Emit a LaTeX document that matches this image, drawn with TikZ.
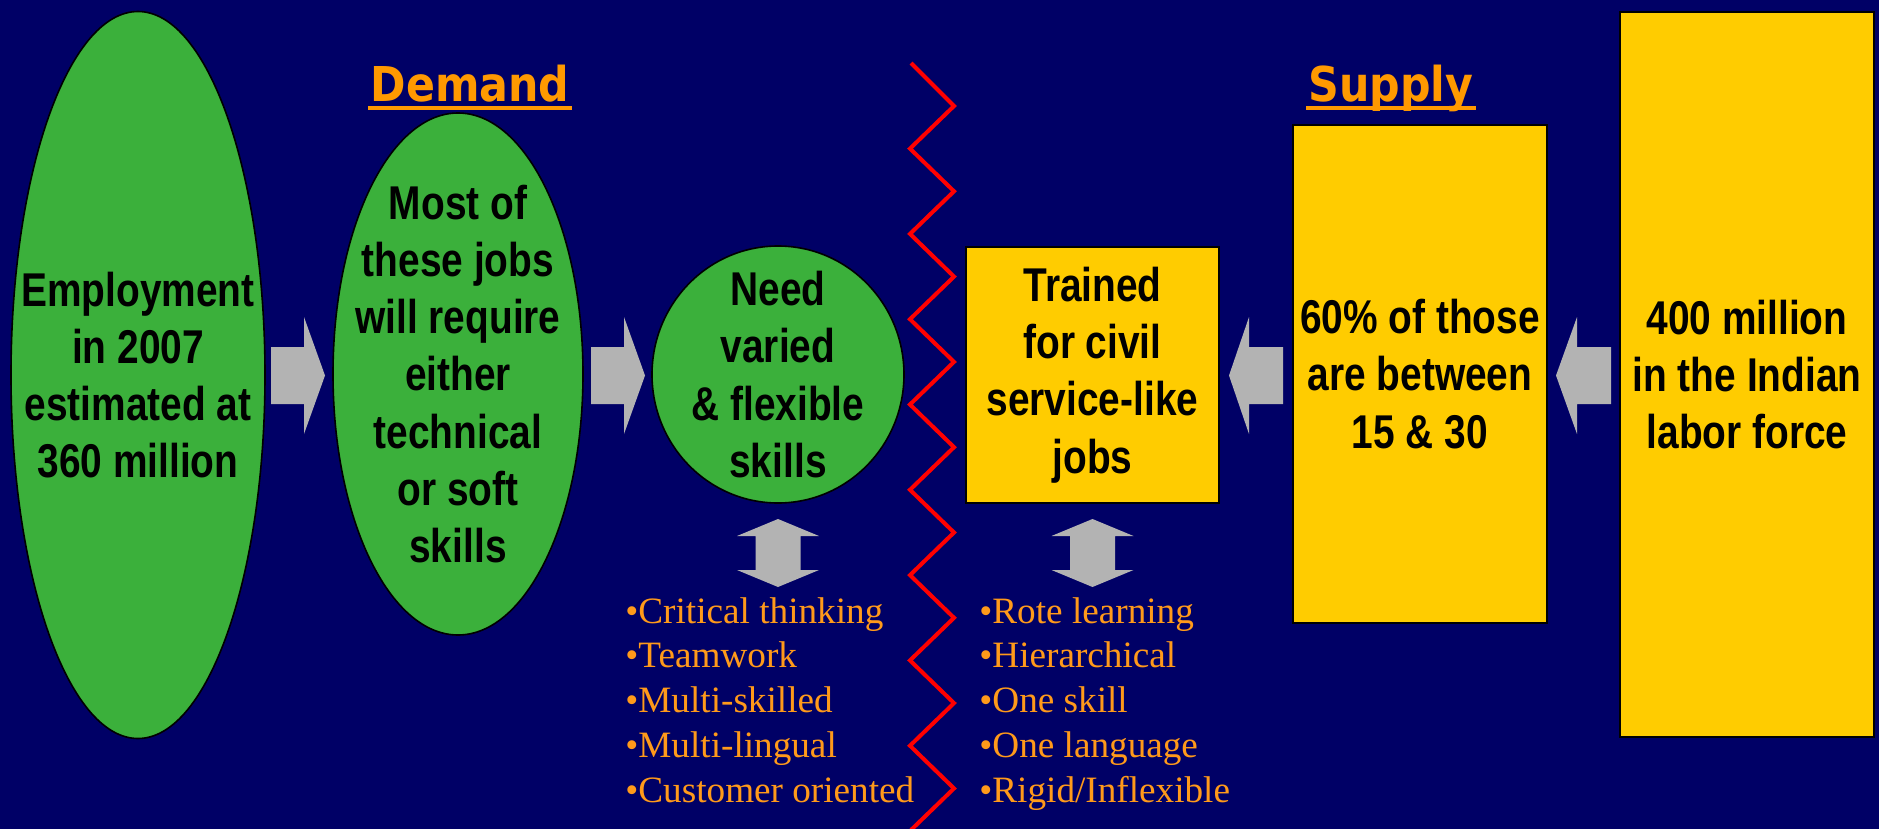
\documentclass[tikz,border=0pt]{standalone}
\usepackage{fontspec}
\setmainfont{Liberation Sans}
\newfontfamily\boxfont{Liberation Sans}[FakeStretch=0.82]
\newfontfamily\headfont{DejaVu Sans}[FakeStretch=0.89]
\newfontfamily\listfont{Liberation Serif}
\usetikzlibrary{shapes.geometric}
\definecolor{bgnavy}{HTML}{000066}
\definecolor{leafgreen}{HTML}{3BB03B}
\definecolor{sunyellow}{HTML}{FFCC00}
\definecolor{headorange}{HTML}{FF9900}
\definecolor{listorange}{HTML}{FF9A1A}
\definecolor{arrowgray}{HTML}{B3B3B3}
\begin{document}
\begin{tikzpicture}[x=0.5pt,y=-0.5pt,
  boxtext/.style={align=center, inner sep=0pt, text=black,
    font=\boxfont\bfseries\fontsize{23.7}{28.6}\selectfont},
  greenell/.style={ellipse, draw=black, line width=0.8pt, fill=leafgreen, inner sep=0pt},
  yellowbox/.style={boxtext, rectangle, draw=black, line width=1pt, fill=sunyellow},
  blockarrow/.style={fill=arrowgray, draw=none},
  listitem/.style={anchor=base west, inner sep=0pt, text=listorange,
    font=\listfont\fontsize{18.6}{22.4}\selectfont},
  heading/.style={anchor=base, inner sep=0pt, text=headorange,
    font=\headfont\bfseries\fontsize{24}{28}\selectfont},
  ulinestyle/.style={draw=headorange, line width=2pt},
  zigzag/.style={draw=red, line width=2pt, line join=miter}
]
\useasboundingbox (0,0) rectangle (1879,829);
\fill[bgnavy] (0,0) rectangle (1879,829);

% headings
\node[heading] (dem) at (470,102) {Demand};
\node[heading] (sup) at (1391,102) {Supply};
\draw[ulinestyle] ([xshift=-1pt,yshift=-3pt]dem.base west) -- ([xshift=1pt,yshift=-3pt]dem.base east);
\draw[ulinestyle] ([xshift=-1pt,yshift=-3pt]sup.base west) -- ([xshift=1pt,yshift=-3pt]sup.base east);

% demand side
\node[greenell, minimum width=127pt, minimum height=363.5pt] (emp) at (138,375) {};
\node[boxtext] (empt) at (emp.center) {Employment\\in 2007\\estimated at\\360 million};
\node[greenell, minimum width=125pt, minimum height=261pt] (most) at (458,374) {};
\node[boxtext] (mostt) at (most.center) {Most of\\these jobs\\will require\\either\\technical\\or soft\\skills};
\node[greenell, minimum width=126pt, minimum height=128.5pt] (need) at (778,374.5) {};
\node[boxtext] (needt) at (need.center) {Need\\varied\\\& flexible\\skills};

% supply side
\node[yellowbox, minimum width=126.5pt, minimum height=128pt] (trained) at (1092.5,375)
  {Trained\\for civil\\service-like\\jobs};
\node[yellowbox, minimum width=127pt, minimum height=249pt] (sixty) at (1420,374)
  {60\% of those\\are between\\15 \& 30};
\node[yellowbox, minimum width=127pt, minimum height=362.5pt] (labor) at (1747,374.5)
  {400 million\\in the Indian\\labor force};

% block arrows
\fill[blockarrow] (271,347) -- (304,347) -- (304,317) -- (325,375.5) -- (304,434) -- (304,404) -- (271,404) -- cycle;
\fill[blockarrow] (591,347) -- (624,347) -- (624,317) -- (645,375.5) -- (624,434) -- (624,404) -- (591,404) -- cycle;
\fill[blockarrow] (1283,347) -- (1249,347) -- (1249,317) -- (1229,375.5) -- (1249,434) -- (1249,404) -- (1283,404) -- cycle;
\fill[blockarrow] (1611,347) -- (1577,347) -- (1577,317) -- (1556,375.5) -- (1577,434) -- (1577,404) -- (1611,404) -- cycle;

% double arrows
\foreach \cx in {778,1092.5} {
  \fill[blockarrow] (\cx,519) -- (\cx+41,536) -- (\cx+22.5,536) -- (\cx+22.5,570) -- (\cx+41,570)
    -- (\cx,587) -- (\cx-41,570) -- (\cx-22.5,570) -- (\cx-22.5,536) -- (\cx-41,536) -- cycle;
}

% zigzag divider
\draw[zigzag] (911,63)
  \foreach \k in {0,...,7} { -- (954,{106+85.3*\k}) -- (910,{148.6+85.3*\k}) }
  -- (954,788.4) -- (911,830);

% lists
\foreach \t [count=\i from 0] in {Critical thinking,Teamwork,Multi-skilled,Multi-lingual,Customer oriented} {
  \node[listitem] (dl\i) at (625,{623+44.8*\i}) {•\t};
}
\foreach \t [count=\i from 0] in {Rote learning,Hierarchical,One skill,One language,Rigid/Inflexible} {
  \node[listitem] (sl\i) at (979,{623+44.8*\i}) {•\t};
}
\end{tikzpicture}
\end{document}
